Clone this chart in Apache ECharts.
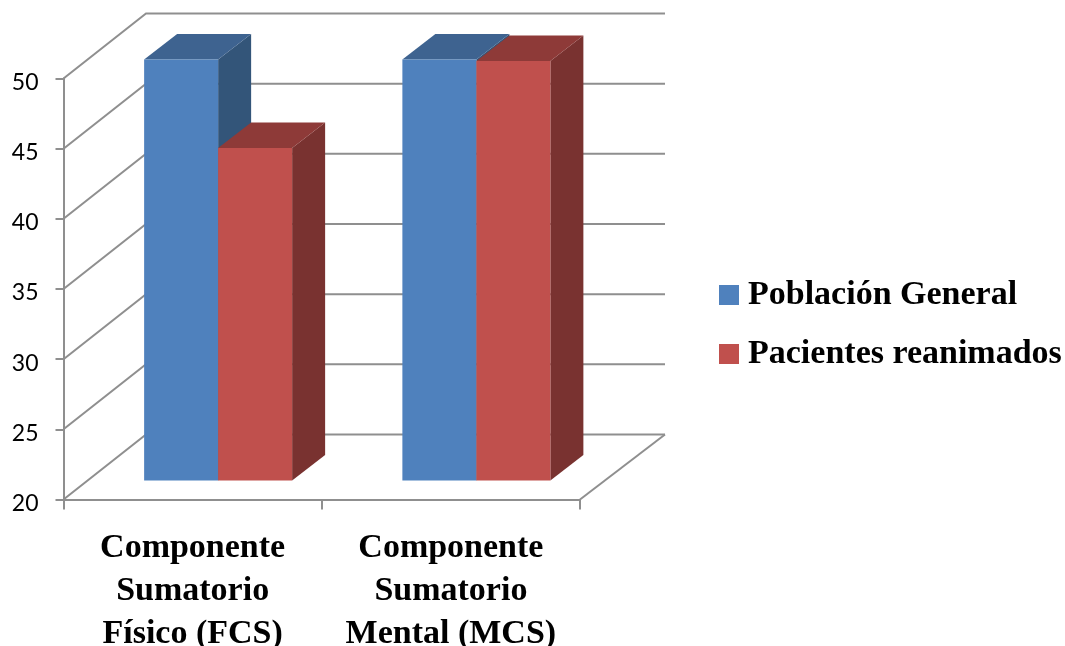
<!DOCTYPE html>
<html>
<head>
<meta charset="utf-8">
<style>html,body{margin:0;padding:0;background:#fff}#c{width:1065px;height:646px}</style>
<script src="https://cdn.jsdelivr.net/npm/echarts@6/dist/echarts.min.js"></script>
</head>
<body>
<div id="c"></div>
<script>
// Mean SF-36 summary scores by component and group
const categories = ['Componente\nSumatorio\nFísico (FCS)', 'Componente\nSumatorio\nMental (MCS)'];
const poblacionGeneral = [50, 50];
const pacientesReanimados = [43.7, 49.9];
const yTicks = [20, 25, 30, 35, 40, 45, 50];

// Oblique projection used for the pseudo-3D look (pixels)
const WALL = { dxLeft: 82.5, dxRight: 85, dy: -65 };
const BAR_OFFSET = { dx: 25.5, dy: -19 };
const BAR_DEPTH = { dx: 33, dy: -25.5 };
const BAR_WIDTH = 74;
const GRID_COLOR = '#8F8F8F';
const SERIF = '"Liberation Serif", serif';

const BLUE = { front: '#4F81BD', top: '#3E6390', side: '#335579' };
const RED = { front: '#C0504D', top: '#8E3A38', side: '#793230' };

function poly(points, fill) {
  return { type: 'polygon', shape: { points }, style: { fill, stroke: null } };
}

// One extruded bar: front face, top face and right side face.
function barItem(slot, colors) {
  return function (params, api) {
    const cat = api.value(0);
    const val = api.value(1);
    const top = api.coord([cat, val]);
    const base = api.coord([cat, yTicks[0]]);
    const x0 = top[0] + BAR_OFFSET.dx + slot * BAR_WIDTH;
    const x1 = x0 + BAR_WIDTH;
    const yT = top[1] + BAR_OFFSET.dy;
    const yB = base[1] + BAR_OFFSET.dy;
    const d = BAR_DEPTH;
    return {
      type: 'group',
      children: [
        poly([[x1, yT], [x1 + d.dx, yT + d.dy], [x1 + d.dx, yB + d.dy], [x1, yB]], colors.side),
        poly([[x0, yT], [x0 + d.dx, yT + d.dy], [x1 + d.dx, yT + d.dy], [x1, yT]], colors.top),
        poly([[x0, yT], [x1, yT], [x1, yB], [x0, yB]], colors.front)
      ]
    };
  };
}

// Wall gridline for one tick: slanted on the side wall, level on the back wall.
function wallLine(params, api) {
  const v = api.value(0);
  const sys = params.coordSys;
  const y = api.coord([0, v])[1];
  const left = sys.x;
  const right = sys.x + sys.width;
  const style = { stroke: GRID_COLOR, lineWidth: 2, fill: null };
  const children = [{
    type: 'polyline',
    shape: { points: [[left, y], [left + WALL.dxLeft, y + WALL.dy], [right + WALL.dxRight, y + WALL.dy]] },
    style
  }];
  if (v === yTicks[0]) {
    children.push({
      type: 'line',
      shape: { x1: right, y1: y, x2: right + WALL.dxRight, y2: y + WALL.dy },
      style
    });
  }
  return { type: 'group', children };
}

const chart = echarts.init(document.getElementById('c'), null, { renderer: 'canvas' });
chart.setOption({
  animation: false,
  backgroundColor: '#fff',
  grid: { left: 63.5, top: 78.5, width: 516.5, height: 421, outerBoundsMode: 'none' },
  legend: {
    left: 719,
    top: 274,
    padding: 0,
    orient: 'vertical',
    data: ['Población General', 'Pacientes reanimados'],
    icon: 'rect',
    itemWidth: 20,
    itemHeight: 20,
    itemGap: 17,
    selectedMode: false,
    textStyle: { fontFamily: SERIF, fontWeight: 'bold', fontSize: 34, color: '#000', lineHeight: 36, padding: [6, 0, 0, 4] }
  },
  xAxis: {
    type: 'category',
    data: categories,
    axisLine: { lineStyle: { color: GRID_COLOR, width: 2 } },
    axisTick: { show: true, length: 10, lineStyle: { color: GRID_COLOR, width: 2 } },
    axisLabel: { fontFamily: SERIF, fontWeight: 'bold', fontSize: 34, color: '#000', lineHeight: 43, margin: 27, interval: 0 }
  },
  yAxis: {
    type: 'value',
    min: 20,
    max: 50,
    interval: 5,
    axisLine: { show: true, lineStyle: { color: GRID_COLOR, width: 2 } },
    axisTick: { show: true, length: 8, lineStyle: { color: GRID_COLOR, width: 2 } },
    axisLabel: {
      fontFamily: 'Lato, sans-serif',
      fontSize: 23,
      color: '#000',
      margin: 25,
      formatter: '{d|{value}}',
      rich: { d: { fontFamily: 'Lato, sans-serif', fontSize: 23, color: '#000', padding: [8, 0, 0, 0] } }
    },
    splitLine: { show: false }
  },
  series: [
    {
      type: 'custom',
      name: 'paredes',
      silent: true,
      z: 1,
      renderItem: wallLine,
      encode: { y: 0 },
      data: yTicks.map(v => [v])
    },
    {
      type: 'custom',
      name: 'Población General',
      z: 2,
      itemStyle: { color: BLUE.front },
      renderItem: barItem(-1, BLUE),
      encode: { x: 0, y: 1 },
      data: poblacionGeneral.map((v, i) => [i, v])
    },
    {
      type: 'custom',
      name: 'Pacientes reanimados',
      z: 3,
      itemStyle: { color: RED.front },
      renderItem: barItem(0, RED),
      encode: { x: 0, y: 1 },
      data: pacientesReanimados.map((v, i) => [i, v])
    }
  ]
});
</script>
</body>
</html>
